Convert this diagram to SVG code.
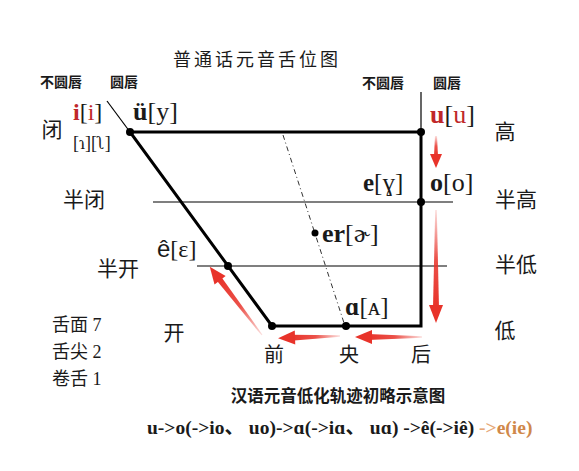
<svg xmlns="http://www.w3.org/2000/svg" width="579" height="471" viewBox="0 0 579 471">
<style>
.cjk{font-family:"Noto Sans CJK SC",sans-serif;fill:#1a1a1a}
.lab{font-family:"Liberation Serif","DejaVu Serif","Noto Sans CJK SC",serif;fill:#1a1a1a}
.b{font-weight:bold}
.red{fill:#c0282a}
.thick{stroke:#000;stroke-width:3;fill:none}
.thin{stroke:#000;stroke-width:1.2;fill:none}
.dot{fill:#000}
</style>
<defs>
<linearGradient id="g" x1="0" y1="0" x2="1" y2="0">
<stop offset="0" stop-color="#e8332a" stop-opacity="0.15"/>
<stop offset="0.5" stop-color="#e8332a" stop-opacity="0.85"/>
<stop offset="1" stop-color="#e8332a"/>
</linearGradient>
</defs>
<rect width="579" height="471" fill="#fff"/>

<g id="title"><text class="cjk" x="257" y="66" font-size="18" text-anchor="middle" letter-spacing="3">普通话元音舌位图</text></g>

<g id="lip-labels" class="cjk" font-size="14" font-weight="bold">
<text x="40" y="87">不圆唇</text>
<text x="110" y="87">圆唇</text>
<text x="362" y="88">不圆唇</text>
<text x="433" y="88">圆唇</text>
</g>

<g id="connectors">
<line class="thin" x1="107" y1="101" x2="130" y2="132"/>
<line class="thin" x1="421" y1="92" x2="421" y2="132"/>
<polyline class="thick" points="421,132 130,132 272,326 421,326 421,132"/>
<line class="thin" x1="153" y1="202" x2="453" y2="202"/>
<line class="thin" x1="197" y1="266" x2="447" y2="266"/>
<line x1="283" y1="135" x2="345" y2="326" stroke="#333" stroke-width="1" stroke-dasharray="5,3,1,3"/>
<circle class="dot" cx="130" cy="132" r="4"/>
<circle class="dot" cx="421" cy="132" r="4"/>
<circle class="dot" cx="421" cy="202" r="4"/>
<circle class="dot" cx="228" cy="266" r="4"/>
<circle class="dot" cx="272" cy="326" r="4"/>
<circle class="dot" cx="346" cy="326" r="4"/>
<circle class="dot" cx="315" cy="233" r="3.5"/>
</g>

<g id="arrows">
<g transform="translate(436,136) rotate(90)"><polygon points="0,-1 0,1 20,2 20,-2" fill="url(#g)"/><polygon points="18,-6 32,0 18,6" fill="#e8332a"/></g>
<g transform="translate(436,210) rotate(90)"><polygon points="0,-0.8 0,0.8 98,3 98,-3" fill="url(#g)"/><polygon points="95,-7 113,0 95,7" fill="#e8332a"/></g>
<g transform="translate(422,337) rotate(180)"><polygon points="0,-0.8 0,0.8 54,3 54,-3" fill="url(#g)"/><polygon points="50,-7 67,0 50,7" fill="#e8332a"/></g>
<g transform="translate(340,336) rotate(178)"><polygon points="0,-0.8 0,0.8 49,3 49,-3" fill="url(#g)"/><polygon points="45,-7 62,0 45,7" fill="#e8332a"/></g>
<g transform="translate(262,335) rotate(-127.4)"><polygon points="0,-0.6 0,0.6 72,3 72,-3" fill="url(#g)"/><polygon points="69,-7 86,0 69,7" fill="#e8332a"/></g>
</g>

<g id="vowel-i"><text class="lab" x="73" y="120" font-size="24"><tspan class="red b">i</tspan>[<tspan class="red">i</tspan>]</text>
<text class="lab" x="73" y="149" font-size="18">[ɿ][ʅ]</text></g>
<g id="vowel-y"><text class="lab" x="133" y="120" font-size="26"><tspan class="b">ü</tspan>[y]</text></g>
<g id="vowel-u"><text class="lab" x="430" y="123" font-size="26"><tspan class="red b">u</tspan>[<tspan class="red">u</tspan>]</text></g>
<g id="vowel-e"><text class="lab" x="363" y="191" font-size="25"><tspan class="b">e</tspan>[ɣ]</text></g>
<g id="vowel-o"><text class="lab" x="430" y="191" font-size="26"><tspan class="b">o</tspan>[o]</text></g>
<g id="vowel-eh"><text class="lab" x="157" y="257" font-size="24"><tspan font-family="Liberation Sans,sans-serif">ê</tspan>[ɛ]</text></g>
<g id="vowel-er"><text class="lab" x="322" y="242" font-size="26"><tspan class="b">er</tspan>[ɚ]</text></g>
<g id="vowel-a"><text class="lab" x="345" y="315" font-size="25"><tspan class="b">ɑ</tspan>[ᴀ]</text></g>

<g id="height-labels" class="cjk" font-size="21" text-anchor="middle">
<text x="52" y="137">闭</text>
<text x="84" y="207">半闭</text>
<text x="118" y="276">半开</text>
<text x="174" y="340">开</text>
<text x="505" y="139">高</text>
<text x="516" y="207">半高</text>
<text x="516" y="272">半低</text>
<text x="505" y="338">低</text>
</g>
<g id="position-labels" class="cjk" font-size="20" text-anchor="middle">
<text x="274" y="362">前</text>
<text x="349" y="362">央</text>
<text x="421" y="362">后</text>
</g>
<g id="counts" class="lab" font-size="18">
<text x="52" y="331">舌面 7</text>
<text x="52" y="358">舌尖 2</text>
<text x="52" y="385">卷舌 1</text>
</g>
<g id="caption">
<text class="cjk" x="338" y="402" font-size="16.5" font-weight="bold" text-anchor="middle">汉语元音低化轨迹初略示意图</text>
<text class="lab b" x="147" y="434" font-size="19.5">u-&gt;o(-&gt;io、 uo)-&gt;ɑ(-&gt;iɑ、 uɑ) -&gt;ê(-&gt;iê) <tspan fill="#e6a878">-&gt;</tspan><tspan fill="#d0884a">e(ie)</tspan></text>
</g>
</svg>
